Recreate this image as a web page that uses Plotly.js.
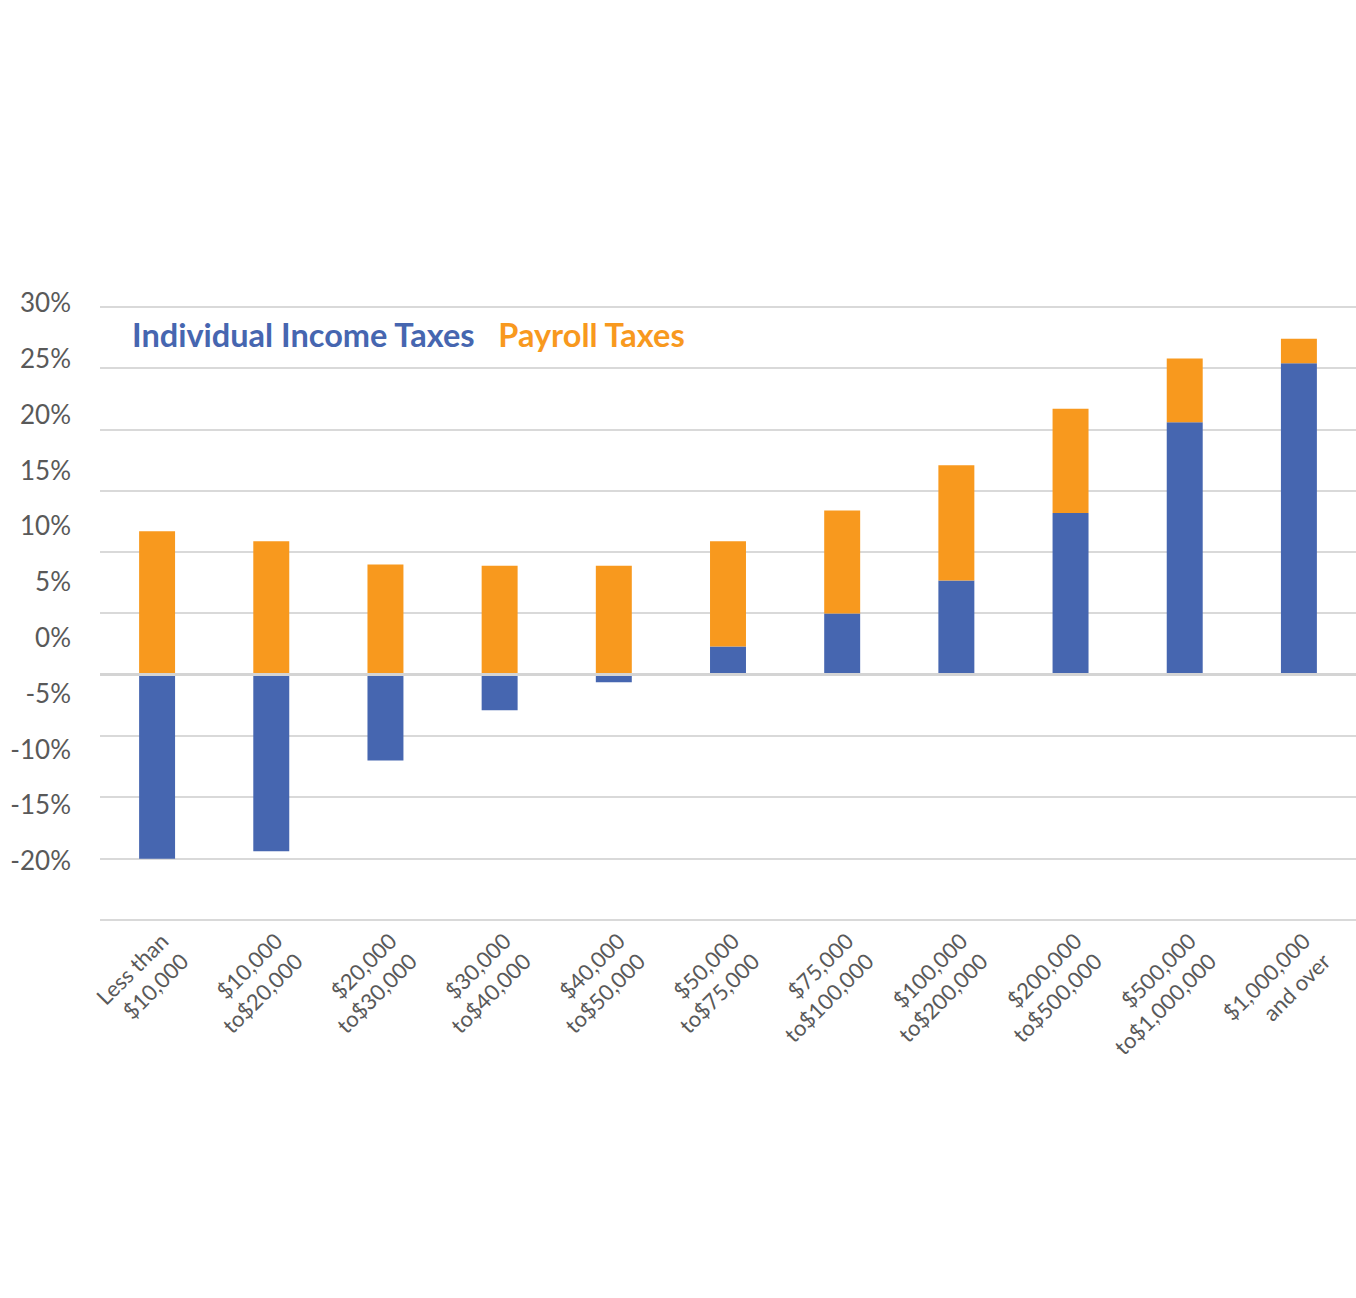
<!DOCTYPE html>
<html>
<head>
<meta charset="utf-8">
<script src="https://cdn.plot.ly/plotly-3.0.1.min.js"></script>
<style>
  html, body { margin: 0; padding: 0; background: #ffffff; }
  #chart { width: 1356px; height: 1298px; }
</style>
</head>
<body>
<div id="chart"></div>
<script>
// ---- data ----
var categories = [
  "Less than<br>$10,000",
  "$10,000<br>to$20,000",
  "$20,000<br>to$30,000",
  "$30,000<br>to$40,000",
  "$40,000<br>to$50,000",
  "$50,000<br>to$75,000",
  "$75,000<br>to$100,000",
  "$100,000<br>to$200,000",
  "$200,000<br>to$500,000",
  "$500,000<br>to$1,000,000",
  "$1,000,000<br>and over"
];
var incomeTaxes  = [-15.0, -14.4, -7.0, -2.9, -0.6, 2.3, 5.0, 7.7, 13.2, 20.6, 25.4];
var payrollTaxes = [11.7, 10.9, 9.0, 8.9, 8.9, 8.6, 8.4, 9.4, 8.5, 5.2, 2.0];
var yTickValues  = [30, 25, 20, 15, 10, 5, 0, -5, -10, -15, -20];
var seriesNames  = ["Individual Income Taxes", "Payroll Taxes"];

var blue = "#4666b0";
var orange = "#f8991e";
var grey = "#595959";

var traces = [
  {
    type: "bar", name: seriesNames[0], x: categories, y: incomeTaxes,
    marker: { color: blue }, hoverinfo: "skip", showlegend: false
  },
  {
    type: "bar", name: seriesNames[1], x: categories, y: payrollTaxes,
    marker: { color: orange }, hoverinfo: "skip", showlegend: false
  },
  {
    type: "scatter", mode: "markers", x: categories,
    y: categories.map(function () { return null; }),
    yaxis: "y2", hoverinfo: "skip", showlegend: false
  }
];

var layout = {
  width: 1356, height: 1298,
  margin: { l: 100, r: 0, t: 280, b: 368 },
  paper_bgcolor: "#ffffff", plot_bgcolor: "#ffffff",
  barmode: "relative",
  bargap: 0.685,
  font: { family: "Lato, 'Open Sans', sans-serif", color: grey },
  showlegend: false,
  xaxis: {
    type: "category",
    range: [-0.5, 10.5],
    tickangle: -45,
    tickfont: { family: "Lato, sans-serif", size: 22, color: grey },
    ticklabelstandoff: -7,
    ticklabelshift: 5,
    showgrid: false, zeroline: false, showline: false, ticks: ""
  },
  yaxis: {
    range: [-20.816, 32.20],
    tick0: 0, dtick: 5,
    showticklabels: false,
    showgrid: true, gridcolor: "#d9d9d9", gridwidth: 2,
    zeroline: true, zerolinecolor: "#d4d4d4", zerolinewidth: 3,
    zerolinelayer: "above traces",
    showline: false, ticks: ""
  },
  yaxis2: {
    overlaying: "y", side: "left",
    range: [-26.183, 32.061],
    tickmode: "array", tickvals: yTickValues,
    ticktext: yTickValues.map(function (v) { return v + "%"; }),
    tickfont: { family: "Lato, sans-serif", size: 26, color: grey },
    showgrid: false, zeroline: false, showline: false, ticks: "",
    ticklabelstandoff: 28
  },
  annotations: [
    {
      xref: "paper", yref: "paper", x: 0.0263, y: 1.0, xanchor: "left", yanchor: "middle",
      yshift: -54, xshift: -3,
      showarrow: false,
      text: "<b><span style='color:" + blue + "'>" + seriesNames[0] + "</span>&nbsp;&nbsp;&nbsp;<span style='color:" + orange + "'>" + seriesNames[1] + "</span></b>",
      font: { family: "Lato, sans-serif", size: 32.5 }
    }
  ]
};

Plotly.newPlot("chart", traces, layout, { displayModeBar: false, staticPlot: true });
</script>
</body>
</html>
